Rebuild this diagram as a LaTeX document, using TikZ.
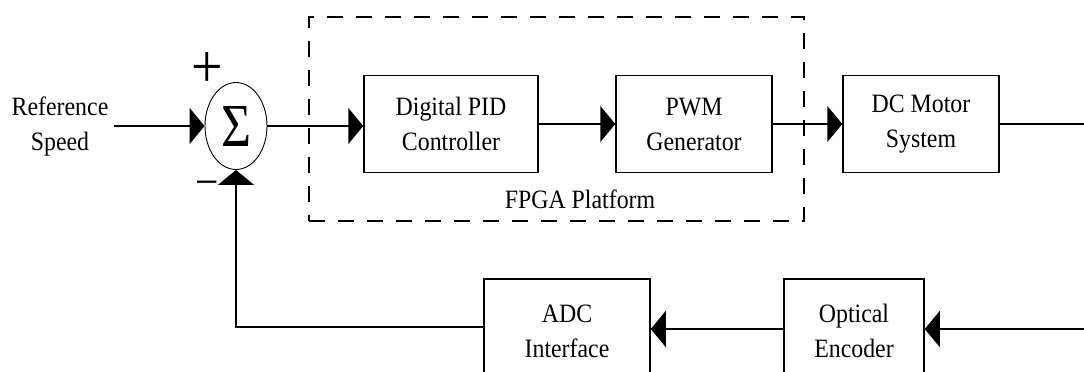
\documentclass[tikz,border=0pt]{standalone}
\usepackage{fontspec}
\setmainfont{Liberation Serif}[FakeStretch=0.9]
\usetikzlibrary{arrows.meta,shapes.geometric}
\begin{document}
\begin{tikzpicture}[x=1pt,y=-1pt,
  lbl/.style={align=center, font=\fontsize{26.5}{35}\selectfont, inner sep=0pt},
  block/.style={lbl, draw, line width=1.5pt, minimum height=97pt},
  conn/.style={line width=1.6pt, -{Triangle[length=15pt,width=36pt]}},
  wire/.style={line width=1.6pt}]
\useasboundingbox (0,0) rectangle (1084,372);
\fill[white] (0,0) rectangle (1084,372);
\begin{scope}
\clip (0,0) rectangle (1084,372);
% FPGA dashed frame
\node[draw, line width=1.3pt, dash pattern=on 16pt off 13pt, minimum width=495pt, minimum height=204pt, inner sep=0pt] (fpga) at (556.5,119) {};
\node[lbl] (fpgalabel) at (580,199) {FPGA Platform};
% summing junction
\node[ellipse, draw, line width=0.9pt, minimum width=62pt, minimum height=87pt, inner sep=0pt] (sum) at (236,126) {\resizebox{30pt}{40pt}{Σ}};
\node[inner sep=0pt, font=\fontsize{62}{62}\selectfont] (plus) at (207,70) {+};
\node[inner sep=0pt, font=\fontsize{46}{46}\selectfont] (minus) at (207,189) {−};
\node[lbl] (ref) at (60,126) {Reference\\Speed};
% forward path
\node[block, minimum width=174pt] (pid) at (451,124) {Digital PID\\Controller};
\node[block, minimum width=156pt] (pwm) at (694,124) {PWM\\Generator};
\node[block, minimum width=156pt] (dc) at (921,124) {DC Motor\\System};
% feedback path
\node[block, minimum width=166pt, minimum height=104pt] (adc) at (567,331) {ADC\\Interface};
\node[block, minimum width=140pt, minimum height=104pt] (opt) at (854,331) {Optical\\Encoder};
\coordinate (in) at (114,126);
\coordinate (out) at (1084,124);
\coordinate (fbin) at (1084,329);
\draw[conn] (in) -- (sum.west);
\draw[conn] (sum.east) -- (sum.east -| pid.west);
\draw[conn] (pid.east) -- (pwm.west);
\draw[conn] (pwm.east) -- (dc.west);
\draw[wire] (dc.east) -- (out);
\draw[conn] (fbin) -- (fbin -| opt.east);
\draw[conn] (opt.west |- fbin) -- (fbin -| adc.east);
\draw[conn] (adc.west |- 0,327) -| (sum.south);
\end{scope}
\end{tikzpicture}
\end{document}
